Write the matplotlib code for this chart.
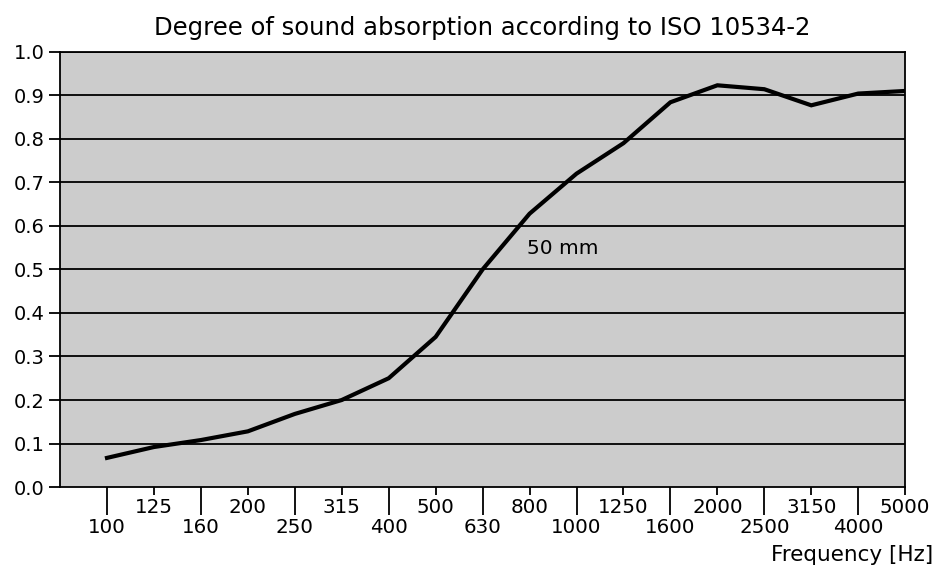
import numpy as np
import matplotlib.pyplot as plt

# one-third octave bands and absorption values
freqs = ['100', '125', '160', '200', '250', '315', '400', '500', '630',
         '800', '1000', '1250', '1600', '2000', '2500', '3150', '4000', '5000']
alpha = [0.067, 0.092, 0.108, 0.128, 0.168, 0.200, 0.250, 0.345, 0.500,
         0.628, 0.720, 0.790, 0.884, 0.923, 0.914, 0.877, 0.904, 0.910]
yticks = [0.0, 0.1, 0.2, 0.3, 0.4, 0.5, 0.6, 0.7, 0.8, 0.9, 1.0]
series_label = '50 mm'

plt.rcParams['font.family'] = ['DejaVu Sans']

fig = plt.figure(figsize=(9.38, 5.69), dpi=100)
ax = fig.add_axes([0.064, 0.144, 0.901, 0.765])
ax.set_facecolor('#cccccc')

x = np.arange(len(freqs))
ax.plot(x, alpha, color='black', lw=3.0, solid_joinstyle='miter', zorder=3)

ax.set_xlim(-1, len(freqs) - 1)
ax.set_ylim(0, 1.0)
ax.set_yticks(yticks)
ax.set_yticklabels(['%.1f' % v for v in yticks])
for v in yticks[1:]:
    ax.axhline(v, color='black', lw=1.3, zorder=2)

# alternate long (lower row) and short (upper row) ticks
ax.set_xticks(x[0::2])
ax.set_xticklabels(freqs[0::2])
ax.set_xticks(x[1::2], minor=True)
ax.set_xticklabels(freqs[1::2], minor=True)
ax.tick_params(axis='x', which='major', length=20, width=1.3, pad=2, labelsize=14.3)
ax.tick_params(axis='x', which='minor', length=6, width=1.3, pad=2, labelsize=14.3)
ax.tick_params(axis='y', length=8, width=1.3, pad=3, labelsize=14)

for s in ax.spines.values():
    s.set_linewidth(1.3)
    s.set_color('black')

ax.text(8.95, 0.547, series_label, fontsize=14.5, va='center', ha='left')
ax.set_title('Degree of sound absorption according to ISO 10534-2', fontsize=17.5, pad=12)
fig.text(0.995, 0.025, 'Frequency [Hz]', fontsize=15.5, ha='right', va='center')

fig.savefig('out.png', dpi=100)
